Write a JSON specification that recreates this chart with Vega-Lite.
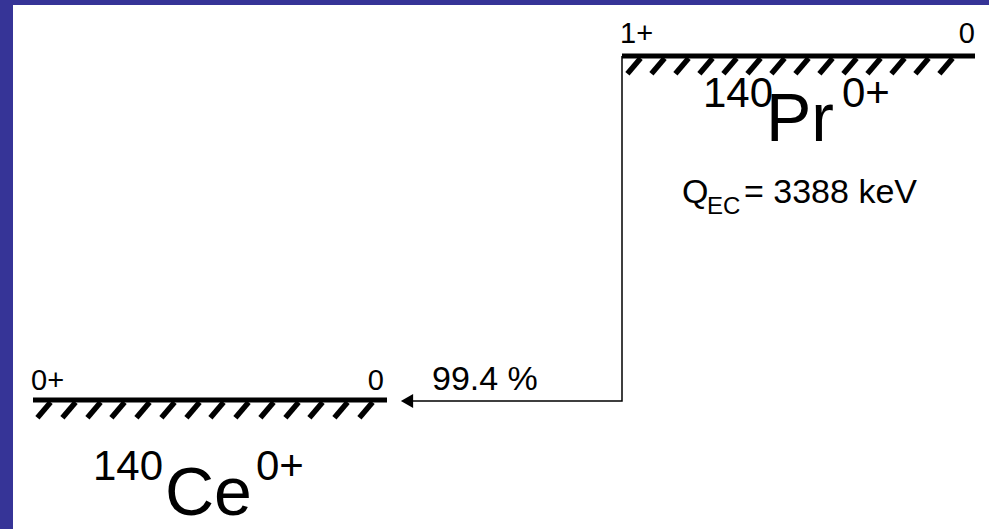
{
  "$schema": "https://vega.github.io/schema/vega-lite/v6.json",
  "width": 989,
  "height": 529,
  "autosize": {"type": "fit", "contains": "padding"},
  "padding": {"left": 13, "top": 5, "right": 0, "bottom": 0},
  "background": "#363497",
  "config": {"view": {"fill": "white", "stroke": null}, "text": {"font": "Liberation Sans", "color": "black"}},
  "datasets": {
    "levels": [
      {"nuclide": "140Pr", "x": 622, "x2": 975, "y": 56},
      {"nuclide": "140Ce", "x": 33, "x2": 387, "y": 400}
    ],
    "hatches": [
      {"nuclide": "140Pr", "x": 634, "y": 66}, {"nuclide": "140Pr", "x": 658, "y": 66}, {"nuclide": "140Pr", "x": 682, "y": 66}, {"nuclide": "140Pr", "x": 706, "y": 66}, {"nuclide": "140Pr", "x": 730, "y": 66}, {"nuclide": "140Pr", "x": 754, "y": 66}, {"nuclide": "140Pr", "x": 778, "y": 66}, {"nuclide": "140Pr", "x": 802, "y": 66}, {"nuclide": "140Pr", "x": 826, "y": 66}, {"nuclide": "140Pr", "x": 850, "y": 66}, {"nuclide": "140Pr", "x": 874, "y": 66}, {"nuclide": "140Pr", "x": 898, "y": 66}, {"nuclide": "140Pr", "x": 922, "y": 66}, {"nuclide": "140Pr", "x": 946, "y": 66},
      {"nuclide": "140Ce", "x": 44, "y": 410}, {"nuclide": "140Ce", "x": 69, "y": 410}, {"nuclide": "140Ce", "x": 94, "y": 410}, {"nuclide": "140Ce", "x": 118, "y": 410}, {"nuclide": "140Ce", "x": 143, "y": 410}, {"nuclide": "140Ce", "x": 168, "y": 410}, {"nuclide": "140Ce", "x": 193, "y": 410}, {"nuclide": "140Ce", "x": 217, "y": 410}, {"nuclide": "140Ce", "x": 242, "y": 410}, {"nuclide": "140Ce", "x": 267, "y": 410}, {"nuclide": "140Ce", "x": 292, "y": 410}, {"nuclide": "140Ce", "x": 316, "y": 410}, {"nuclide": "140Ce", "x": 341, "y": 410}, {"nuclide": "140Ce", "x": 366, "y": 410}
    ],
    "decay": [
      {"step": 1, "x": 622, "y": 56},
      {"step": 2, "x": 622, "y": 401},
      {"step": 3, "x": 410, "y": 401}
    ],
    "leftLabels": [
      {"text": "1+", "x": 620, "y": 43},
      {"text": "0+", "x": 31, "y": 390}
    ],
    "rightLabels": [
      {"text": "0", "x": 975, "y": 43},
      {"text": "0", "x": 384, "y": 390}
    ],
    "mediumLabels": [
      {"text": "99.4 %", "x": 432, "y": 390},
      {"text": "Q", "x": 682, "y": 203},
      {"text": "= 3388 keV", "x": 744, "y": 203}
    ],
    "subLabels": [{"text": "EC", "x": 707, "y": 214}],
    "massLabels": [
      {"text": "140", "x": 703, "y": 107},
      {"text": "0+", "x": 842, "y": 107},
      {"text": "140", "x": 93, "y": 480},
      {"text": "0+", "x": 256, "y": 480}
    ],
    "elementLabels": [
      {"text": "Pr", "x": 766, "y": 141},
      {"text": "Ce", "x": 165, "y": 515}
    ]
  },
  "encoding": {
    "x": {"field": "x", "type": "quantitative", "scale": {"domain": [13, 989], "nice": false, "zero": false}, "axis": null},
    "y": {"field": "y", "type": "quantitative", "scale": {"domain": [5, 529], "nice": false, "zero": false, "reverse": true}, "axis": null}
  },
  "layer": [
    {
      "data": {"name": "levels"},
      "mark": {"type": "rule", "strokeWidth": 5, "color": "black", "strokeCap": "butt"},
      "encoding": {"x2": {"field": "x2"}}
    },
    {
      "data": {"name": "hatches"},
      "mark": {"type": "point", "shape": "M-0.85,1L0.85,-1", "size": 240, "filled": false, "stroke": "black", "strokeWidth": 5.5, "strokeCap": "butt", "opacity": 1}
    },
    {
      "data": {"name": "decay"},
      "mark": {"type": "line", "color": "black", "strokeWidth": 1.5},
      "encoding": {"order": {"field": "step", "type": "quantitative"}}
    },
    {
      "data": {"name": "decay"},
      "transform": [{"filter": "datum.step == 3"}],
      "mark": {"type": "point", "shape": "triangle-left", "size": 200, "filled": true, "color": "black", "opacity": 1, "xOffset": -3}
    },
    {
      "data": {"name": "leftLabels"},
      "mark": {"type": "text", "fontSize": 29, "baseline": "alphabetic", "align": "left"},
      "encoding": {"text": {"field": "text"}}
    },
    {
      "data": {"name": "rightLabels"},
      "mark": {"type": "text", "fontSize": 29, "baseline": "alphabetic", "align": "right"},
      "encoding": {"text": {"field": "text"}}
    },
    {
      "data": {"name": "mediumLabels"},
      "mark": {"type": "text", "fontSize": 34, "baseline": "alphabetic", "align": "left"},
      "encoding": {"text": {"field": "text"}}
    },
    {
      "data": {"name": "subLabels"},
      "mark": {"type": "text", "fontSize": 24, "baseline": "alphabetic", "align": "left"},
      "encoding": {"text": {"field": "text"}}
    },
    {
      "data": {"name": "massLabels"},
      "mark": {"type": "text", "fontSize": 42, "baseline": "alphabetic", "align": "left"},
      "encoding": {"text": {"field": "text"}}
    },
    {
      "data": {"name": "elementLabels"},
      "mark": {"type": "text", "fontSize": 68, "baseline": "alphabetic", "align": "left"},
      "encoding": {"text": {"field": "text"}}
    }
  ]
}
